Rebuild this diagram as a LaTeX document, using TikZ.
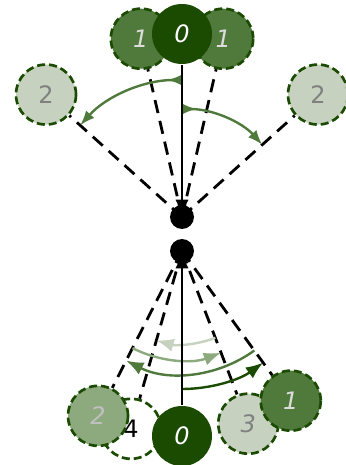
\documentclass[tikz,border=0pt]{standalone}
\usepackage{fontspec}
\setsansfont{DejaVu Sans}
\usetikzlibrary{arrows.meta,calc}
\definecolor{pdark}{RGB}{27,75,0}
\definecolor{pmid}{RGB}{80,122,60}
\definecolor{psoft}{RGB}{141,169,126}
\definecolor{plight}{RGB}{198,210,191}
\definecolor{tpale}{RGB}{220,220,220}
\definecolor{tgrey}{RGB}{128,128,128}
\definecolor{tsilver}{RGB}{192,192,192}

\begin{document}
\begin{tikzpicture}[x=0.75pt, y=0.75pt, >={Latex[length=13pt, width=10pt]}, line width=2pt]
    \tikzstyle{bob} = [circle, minimum size=45pt, inner sep=0pt, font=\sffamily\fontsize{18}{21}\selectfont]
    \tikzstyle{ghost} = [bob, draw=pdark, dash pattern=on 6pt off 3pt, line width=2pt]
    \tikzstyle{guide} = [dash pattern=on 10pt off 6pt, line width=2.1pt]
    \tikzstyle{swing} = [->, line width=1.8pt]
    \tikzstyle{pivot} = [circle, fill=black, minimum size=18pt, inner sep=0pt]

    \useasboundingbox (0,0) rectangle (346,465);
    \coordinate (ptop) at (182,248);
    \coordinate (pbot) at (182,214);

    % top pendulum
    \node [ghost, fill=plight, text=tgrey] (tl2) at ($(ptop)+(138:183)$) {2};
    \node [ghost, fill=plight, text=tgrey] (tr2) at ($(ptop)+(42:183)$) {2};
    \node [ghost, fill=pmid, text=tpale] (tl1) at ($(ptop)+(103:183)$) {\itshape 1};
    \node [ghost, fill=pmid, text=tpale] (tr1) at ($(ptop)+(77:183)$) {\itshape 1};
    \node [bob, fill=pdark, text=white] (t0) at ($(ptop)+(90:183)$) {\itshape 0};

    \draw [guide] (ptop) -- (tl2);
    \draw [guide] (ptop) -- (tl1);
    \draw [guide] (ptop) -- (tr1);
    \draw [guide] (ptop) -- (tr2);
    \draw [swing, pmid, arrows={Latex[reversed]-Latex}] ($(ptop)+(90:137)$) arc[start angle=90, end angle=138, radius=137];
    \draw [swing, pmid, arrows={Latex[reversed]-Latex}] ($(ptop)+(90:108)$) arc[start angle=90, end angle=42, radius=108];
    \draw [->] (t0) -- (ptop);
    \node [pivot] (dtop) at (ptop) {};

    % bottom pendulum
    \node [ghost, fill=white, text=black] (b4) at ($(pbot)+(254:185)$) {4};
    \node [ghost, fill=plight, text=tgrey] (b3) at ($(pbot)+(291:185)$) {\itshape 3};
    \node [ghost, fill=psoft, text=tsilver] (b2) at ($(pbot)+(243:185)$) {\itshape 2};
    \node [ghost, fill=pmid, text=tpale] (b1) at ($(pbot)+(306:185)$) {\itshape 1};
    \node [bob, fill=pdark, text=white] (b0) at ($(pbot)+(270:185)$) {\itshape 0};

    \draw [guide] (pbot) -- (b2);
    \draw [guide] (pbot) -- (b4);
    \draw [guide] (pbot) -- (b3);
    \draw [guide] (pbot) -- (b1);
    \draw [swing, pdark] ($(pbot)+(270:138)$) arc[start angle=270, end angle=306, radius=138];
    \draw [swing, pmid] ($(pbot)+(306:123)$) arc[start angle=306, end angle=243, radius=123];
    \draw [swing, psoft] ($(pbot)+(243:109)$) arc[start angle=243, end angle=291, radius=109];
    \draw [swing, plight] ($(pbot)+(291:93)$) arc[start angle=291, end angle=254, radius=93];
    \draw [->] (b0) -- (pbot);
    \node [pivot] (dbot) at (pbot) {};
\end{tikzpicture}
\end{document}
